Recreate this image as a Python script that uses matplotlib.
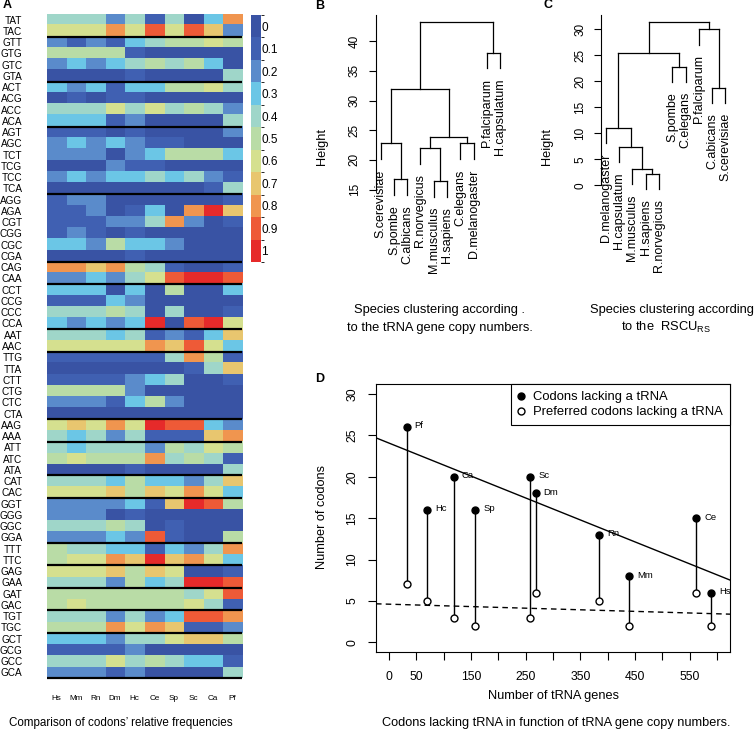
import numpy as np
import matplotlib

matplotlib.use("Agg")
import matplotlib.pyplot as plt
from matplotlib.colors import ListedColormap, BoundaryNorm
from matplotlib.cm import ScalarMappable
from matplotlib.lines import Line2D
from matplotlib.transforms import offset_copy

plt.rcParams["font.family"] = ["Liberation Sans", "DejaVu Sans"]
plt.rcParams["mathtext.fontset"] = "custom"
plt.rcParams["mathtext.rm"] = "Liberation Sans"

# ---- panel A: relative codon frequencies (tenths, 0..10) ----
species_a = ["Hs", "Mm", "Rn", "Dm", "Hc", "Ce", "Sp", "Sc", "Ca", "Pf"]
codons = ["TAT", "TAC", "GTT", "GTG", "GTC", "GTA", "ACT", "ACG", "ACC", "ACA",
          "AGT", "AGC", "TCT", "TCG", "TCC", "TCA", "AGG", "AGA", "CGT", "CGG",
          "CGC", "CGA", "CAG", "CAA", "CCT", "CCG", "CCC", "CCA", "AAT", "AAC",
          "TTG", "TTA", "CTT", "CTG", "CTC", "CTA", "AAG", "AAA", "ATT", "ATC",
          "ATA", "CAT", "CAC", "GGT", "GGG", "GGC", "GGA", "TTT", "TTC", "GAG",
          "GAA", "GAT", "GAC", "TGT", "TGC", "GCT", "GCG", "GCC", "GCA"]
aa_group_sizes = [2, 4, 4, 6, 6, 2, 4, 2, 6, 2, 3, 2, 4, 2, 2, 2, 2, 4]
rel_freq_tenths = [
    [4, 4, 4, 2, 4, 1, 4, 0, 3, 8],   # TAT
    [6, 6, 6, 8, 6, 9, 6, 9, 7, 2],   # TAC
    [2, 1, 2, 1, 3, 4, 5, 5, 6, 5],   # GTT
    [5, 5, 5, 5, 1, 0, 0, 0, 0, 0],   # GTG
    [2, 3, 2, 3, 4, 5, 4, 5, 3, 0],   # GTC
    [0, 0, 0, 0, 1, 0, 0, 0, 0, 4],   # GTA
    [3, 2, 3, 1, 3, 3, 5, 5, 6, 4],   # ACT
    [0, 1, 0, 1, 1, 0, 0, 0, 0, 0],   # ACG
    [4, 4, 4, 6, 4, 6, 4, 5, 4, 2],   # ACC
    [3, 3, 3, 1, 2, 0, 0, 0, 0, 4],   # ACA
    [1, 1, 1, 0, 1, 0, 0, 0, 0, 2],   # AGT
    [2, 3, 2, 3, 2, 1, 1, 0, 0, 0],   # AGC
    [2, 2, 2, 0, 2, 3, 5, 5, 5, 3],   # TCT
    [0, 0, 0, 2, 1, 1, 0, 0, 0, 0],   # TCG
    [2, 3, 2, 3, 3, 4, 3, 4, 2, 1],   # TCC
    [0, 0, 0, 0, 0, 0, 0, 0, 1, 4],   # TCA
    [1, 2, 2, 0, 0, 0, 0, 0, 0, 1],   # AGG
    [1, 1, 2, 0, 1, 3, 0, 8, 10, 7],  # AGA
    [1, 1, 1, 2, 2, 4, 8, 2, 0, 1],   # CGT
    [1, 2, 1, 0, 1, 0, 0, 0, 0, 0],   # CGG
    [3, 3, 2, 5, 3, 3, 2, 0, 0, 0],   # CGC
    [0, 0, 0, 0, 1, 0, 0, 0, 0, 0],   # CGA
    [8, 8, 7, 8, 5, 4, 1, 0, 0, 1],   # CAG
    [2, 2, 3, 2, 4, 6, 9, 10, 10, 9], # CAA
    [3, 3, 3, 0, 3, 0, 5, 0, 0, 3],   # CCT
    [1, 1, 1, 3, 2, 0, 0, 0, 0, 0],   # CCG
    [4, 4, 4, 5, 4, 0, 4, 0, 0, 1],   # CCC
    [3, 2, 3, 2, 3, 10, 0, 9, 10, 6], # CCA
    [4, 4, 4, 3, 4, 1, 2, 1, 3, 7],   # AAT
    [6, 6, 6, 6, 6, 8, 7, 9, 6, 3],   # AAC
    [1, 1, 1, 1, 1, 1, 4, 8, 5, 1],   # TTG
    [0, 0, 0, 0, 0, 0, 0, 1, 4, 7],   # TTA
    [1, 1, 1, 1, 2, 3, 4, 0, 0, 1],   # CTT
    [5, 5, 5, 5, 2, 0, 0, 0, 0, 0],   # CTG
    [2, 2, 2, 1, 3, 5, 2, 0, 0, 0],   # CTC
    [0, 0, 0, 0, 0, 0, 0, 0, 0, 0],   # CTA
    [6, 7, 6, 8, 6, 10, 9, 9, 3, 2],  # AAG
    [4, 3, 4, 2, 4, 1, 1, 1, 7, 8],   # AAA
    [4, 3, 4, 4, 4, 2, 5, 4, 6, 5],   # ATT
    [5, 6, 5, 5, 5, 8, 4, 5, 4, 1],   # ATC
    [0, 0, 0, 0, 1, 0, 0, 0, 0, 4],   # ATA
    [4, 4, 4, 3, 5, 3, 3, 2, 4, 7],   # CAT
    [6, 6, 6, 7, 5, 7, 6, 8, 6, 3],   # CAC
    [2, 2, 2, 2, 3, 1, 7, 10, 9, 5],  # GGT
    [2, 2, 2, 0, 1, 0, 0, 0, 0, 0],   # GGG
    [4, 4, 4, 5, 4, 0, 1, 0, 0, 0],   # GGC
    [2, 2, 2, 3, 2, 9, 1, 0, 0, 5],   # GGA
    [5, 4, 4, 3, 3, 1, 3, 2, 4, 8],   # TTT
    [5, 6, 6, 8, 7, 10, 7, 8, 6, 3],  # TTC
    [6, 6, 6, 7, 5, 7, 6, 0, 0, 1],   # GAG
    [4, 4, 4, 2, 5, 3, 4, 10, 10, 9], # GAA
    [5, 5, 5, 5, 5, 5, 5, 4, 6, 9],   # GAT
    [5, 6, 5, 5, 5, 5, 5, 6, 4, 1],   # GAC
    [4, 4, 4, 2, 4, 2, 3, 9, 9, 8],   # TGT
    [5, 5, 5, 8, 6, 8, 7, 1, 1, 2],   # TGC
    [3, 3, 3, 2, 4, 4, 6, 7, 7, 5],   # GCT
    [1, 1, 1, 1, 2, 0, 0, 0, 0, 0],   # GCG
    [4, 4, 4, 6, 4, 5, 4, 3, 3, 1],   # GCC
    [2, 2, 2, 1, 2, 0, 0, 0, 0, 4],   # GCA
]
level_colors = ["#3953a4", "#4060b2", "#5a8bcb", "#6bc6e6", "#9fd6c9", "#b9dca6",
                "#d5e08f", "#e8c66f", "#f0954f", "#ee5a37", "#e62a2a"]

# ---- panel B / C: dendrograms (R-style merge: negative = leaf) ----
leaves_b = ["S.cerevisiae", "S.pombe", "C.albicans", "R.norvegicus", "M.musculus",
            "H.sapiens", "C.elegans", "D.melanogaster", "P.falciparum", "H.capsulatum"]
merges_b = [(-2, -3, 16.8), (-5, -6, 16.5), (-4, 2, 22.0), (-7, -8, 22.8), (-1, 1, 22.8),
            (3, 4, 23.8), (5, 6, 31.9), (-9, -10, 38.1), (7, 8, 43.3)]
leaves_c = ["D.melanogaster", "H.capsulatum", "M.musculus", "H.sapiens", "R.norvegicus",
            "S.pombe", "C.elegans", "P.falciparum", "C.abicans", "S.cerevisiae"]
merges_c = [(-4, -5, 2.2), (-3, 1, 3.1), (-2, 2, 7.4), (-1, 3, 11.0), (-9, -10, 18.8),
            (-6, -7, 22.8), (4, 6, 25.4), (-8, 5, 30.0), (7, 8, 31.5)]

# ---- panel D ----
species_d = ["Pf", "Hc", "Ca", "Sp", "Sc", "Dm", "Rn", "Mm", "Ce", "Hs"]
trna_genes = [32, 70, 118, 158, 258, 268, 384, 440, 562, 589]
codons_lacking = [26, 16, 20, 16, 20, 18, 13, 8, 15, 6]
preferred_lacking = [7, 5, 3, 2, 3, 6, 5, 2, 6, 2]
fit_all = (24.06, -0.0265)        # intercept, slope (solid line)
fit_preferred = (4.61, -0.00193)  # dashed line
xtick_shown = [0, 50, 150, 250, 350, 450, 550]

W, H = 755, 730


def box(x0, y0, x1, y1):
    return [x0 / W, 1 - y1 / H, (x1 - x0) / W, (y1 - y0) / H]


def ftext(x, y, s, **kw):
    kw.setdefault("ha", "center")
    kw.setdefault("va", "center")
    fig.text(x / W, 1 - y / H, s, **kw)


def draw_dendrogram(ax, leaves, merges):
    heights = [m[2] for m in merges]
    hang = 0.1 * (max(heights) - min(heights))
    lab_tr = offset_copy(ax.transData, fig=fig, y=-7.3, units="points")
    node_x, node_h = {}, {}
    for k, (a, b, h) in enumerate(merges, start=1):
        xs = []
        for child in (a, b):
            if child < 0:
                x = -child
                bottom = h - hang
                ax.text(x, bottom, leaves[x - 1], rotation=90, ha="center", va="top",
                        fontsize=9, transform=lab_tr, clip_on=False)
            else:
                x, bottom = node_x[child], node_h[child]
            ax.plot([x, x], [bottom, h], color="black", lw=0.9)
            xs.append(x)
        ax.plot(xs, [h, h], color="black", lw=0.9)
        node_x[k] = sum(xs) / 2
        node_h[k] = h
    n = len(leaves)
    ax.set_xlim(1 - 0.04 * (n - 1), n + 0.04 * (n - 1))
    lo, hi = min(heights) - hang, max(heights)
    ax.set_ylim(lo - 0.04 * (hi - lo), hi + 0.04 * (hi - lo))
    for s in ("top", "right", "bottom"):
        ax.spines[s].set_visible(False)
    ax.set_xticks([])
    ax.tick_params(axis="y", direction="out", length=4.8, width=0.8, pad=6,
                   labelsize=8.5, labelrotation=90)
    for t in ax.get_yticklabels():
        t.set_va("center")


fig = plt.figure(figsize=(W / 100, H / 100), dpi=100)

# ---- A ----
freq = np.array(rel_freq_tenths) / 10.0
cmap = ListedColormap(level_colors)
norm = BoundaryNorm(np.linspace(-0.05, 1.05, 12), cmap.N)
ax_a = fig.add_axes(box(46.5, 14, 242.5, 678))
ax_a.imshow(freq, cmap=cmap, norm=norm, aspect="auto", interpolation="nearest",
            extent=(0, len(species_a), len(codons), 0))
ax_a.set_yticks(np.arange(len(codons)) + 0.5)
ax_a.set_yticklabels(codons, fontsize=7.2)
ax_a.set_xticks(np.arange(len(species_a)) + 0.5)
ax_a.set_xticklabels(species_a, fontsize=5.9)
ax_a.tick_params(axis="y", length=0, pad=17.4)
ax_a.tick_params(axis="x", length=0, pad=11.9)
for s in ax_a.spines.values():
    s.set_visible(False)
ax_a.hlines(np.cumsum(aa_group_sizes), 0, len(species_a), color="black", lw=1.6,
            clip_on=False)

cax = fig.add_axes(box(251, 15, 261, 262))
levels = np.round(np.arange(0, 1.01, 0.1), 1)
cb = fig.colorbar(ScalarMappable(norm=norm, cmap=cmap), cax=cax, ticks=levels)
cb.set_ticklabels(["0" if v == 0 else "1" if v == 1 else f"{v:.1f}" for v in levels])
cb.outline.set_visible(False)
cax.invert_yaxis()
cax.tick_params(length=0, pad=0, labelsize=8.5)

ftext(121, 723, "Comparison of codons\u2019 relative frequencies", fontsize=8.4)

# ---- B ----
ax_b = fig.add_axes(box(375.9, 14.7, 504.8, 203.5))
draw_dendrogram(ax_b, leaves_b, merges_b)
ax_b.set_yticks([15, 20, 25, 30, 35, 40])
ax_b.spines["left"].set_bounds(15, ax_b.get_ylim()[1])
ftext(321.7, 146.7, "Height", rotation=90, fontsize=9.2)
ftext(440, 310, "Species clustering according .", fontsize=9.3)
ftext(440, 328, "to the tRNA gene copy numbers.", fontsize=9.3)

# ---- C ----
ax_c = fig.add_axes(box(601.2, 14.8, 730.1, 195.8))
draw_dendrogram(ax_c, leaves_c, merges_c)
ax_c.set_yticks([0, 5, 10, 15, 20, 25, 30])
ax_c.spines["left"].set_bounds(0, ax_c.get_ylim()[1])
ftext(546.7, 146.7, "Height", rotation=90, fontsize=9.2)
ftext(672, 310, "Species clustering according", fontsize=9.3)
ftext(666.5, 327, r"to the  $\mathrm{RSCU}_{\mathrm{RS}}$", fontsize=9.3)

# ---- D ----
ax_d = fig.add_axes(box(376, 384, 730, 652.3))
ax_d.set_xlim(-24, 624)
ax_d.set_ylim(-1.2, 31.2)
for x, y1, y0 in zip(trna_genes, codons_lacking, preferred_lacking):
    ax_d.plot([x, x], [y0, y1], color="black", lw=1, zorder=2)
ax_d.plot(trna_genes, codons_lacking, "o", color="black", ms=5, zorder=3)
ax_d.plot(trna_genes, preferred_lacking, "o", mfc="white", mec="black", mew=1,
          ms=5, zorder=3)
lab_tr = offset_copy(ax_d.transData, fig=fig, x=5.8, y=0.8, units="points")
for name, x, y in zip(species_d, trna_genes, codons_lacking):
    ax_d.text(x, y, name, transform=lab_tr, fontsize=6.8, ha="left", va="center",
              clip_on=True, zorder=1)
xl = np.array(ax_d.get_xlim())
ax_d.plot(xl, fit_all[0] + fit_all[1] * xl, color="black", lw=1, zorder=1)
ax_d.plot(xl, fit_preferred[0] + fit_preferred[1] * xl, color="black", lw=1,
          dashes=(4, 3), zorder=1)
xt = np.arange(0, 601, 50)
ax_d.set_xticks(xt)
ax_d.set_xticklabels([str(t) if t in xtick_shown else "" for t in xt])
ax_d.set_yticks(np.arange(0, 31, 5))
ax_d.tick_params(axis="both", direction="out", length=5.5, width=0.8, labelsize=8.8)
ax_d.tick_params(axis="x", pad=8.2)
ax_d.tick_params(axis="y", pad=7.1, labelrotation=90)
for t in ax_d.get_yticklabels():
    t.set_va("center")
for s in ax_d.spines.values():
    s.set_linewidth(0.8)
handles = [Line2D([], [], ls="none", marker="o", color="black", ms=5),
           Line2D([], [], ls="none", marker="o", mfc="white", mec="black", mew=1, ms=5)]
leg = ax_d.legend(handles, ["Codons lacking a tRNA", "Preferred codons lacking a tRNA"],
                  loc="upper right", borderaxespad=0, fancybox=False, edgecolor="black",
                  framealpha=1, fontsize=9.4, handlelength=0.5, handletextpad=0.65,
                  borderpad=0.55, labelspacing=0.2)
leg.get_frame().set_linewidth(0.8)
ftext(321.7, 517, "Number of codons", rotation=90, fontsize=9.2)
ftext(553, 696, "Number of tRNA genes", fontsize=9.2)
ftext(556, 723, "Codons lacking tRNA in function of tRNA gene copy numbers.", fontsize=9.2)

# panel letters
for letter, (x, y) in zip("ABCD", [(6.7, 5.5), (319.5, 6), (547.5, 5.5), (320, 379)]):
    ftext(x, y, letter, fontsize=9, fontweight="bold")

fig.savefig("out.png", dpi=100)
plt.close(fig)
